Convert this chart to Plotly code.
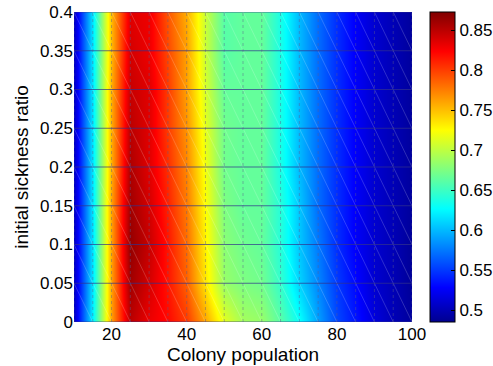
import plotly.graph_objects as go

# Data
population = [10, 15, 20, 25, 30, 35, 40, 45, 50, 55, 60, 65, 70, 75, 80, 85, 90, 95, 100]
sickness_ratio = [0.0, 0.05, 0.10, 0.15, 0.20, 0.25, 0.30, 0.35, 0.40]

row_000 = [0.505, 0.625, 0.765, 0.85, 0.83, 0.82, 0.80, 0.76, 0.715, 0.69, 0.685, 0.66, 0.63, 0.59, 0.555, 0.535, 0.515, 0.50, 0.49]
row_005 = [0.505, 0.62, 0.765, 0.86, 0.84, 0.815, 0.785, 0.735, 0.685, 0.675, 0.67, 0.645, 0.61, 0.58, 0.55, 0.53, 0.51, 0.50, 0.488]
row_010 = [0.505, 0.62, 0.765, 0.865, 0.845, 0.815, 0.78, 0.73, 0.68, 0.67, 0.665, 0.64, 0.605, 0.575, 0.545, 0.525, 0.51, 0.50, 0.488]
row_015 = [0.505, 0.62, 0.765, 0.86, 0.84, 0.81, 0.775, 0.725, 0.675, 0.665, 0.665, 0.64, 0.605, 0.57, 0.545, 0.525, 0.51, 0.50, 0.49]
row_020 = [0.505, 0.62, 0.76, 0.855, 0.835, 0.805, 0.77, 0.72, 0.67, 0.665, 0.665, 0.635, 0.60, 0.57, 0.545, 0.525, 0.51, 0.50, 0.49]
row_025 = [0.505, 0.62, 0.76, 0.85, 0.835, 0.80, 0.765, 0.715, 0.67, 0.665, 0.665, 0.635, 0.60, 0.57, 0.545, 0.525, 0.51, 0.50, 0.49]
row_030 = [0.505, 0.62, 0.76, 0.845, 0.835, 0.80, 0.76, 0.71, 0.665, 0.665, 0.665, 0.635, 0.60, 0.57, 0.545, 0.525, 0.51, 0.50, 0.49]
row_035 = [0.505, 0.62, 0.755, 0.84, 0.83, 0.795, 0.76, 0.705, 0.66, 0.665, 0.665, 0.635, 0.60, 0.57, 0.545, 0.525, 0.51, 0.50, 0.49]
row_040 = [0.505, 0.62, 0.755, 0.835, 0.83, 0.79, 0.755, 0.705, 0.66, 0.665, 0.665, 0.635, 0.60, 0.57, 0.545, 0.525, 0.51, 0.50, 0.49]

z = [row_000, row_005, row_010, row_015, row_020, row_025, row_030, row_035, row_040]

x_ticks = [20, 40, 60, 80, 100]
y_ticks = [0, 0.05, 0.1, 0.15, 0.2, 0.25, 0.3, 0.35, 0.4]
cbar_ticks = [0.5, 0.55, 0.6, 0.65, 0.7, 0.75, 0.8, 0.85]

jet = [
    [0.0, "rgb(0,0,143)"],
    [0.111, "rgb(0,0,255)"],
    [0.365, "rgb(0,255,255)"],
    [0.619, "rgb(255,255,0)"],
    [0.873, "rgb(255,0,0)"],
    [1.0, "rgb(128,0,0)"],
]

FAM = "Liberation Sans, Arial"
tick_font = dict(family=FAM, size=17, color="black")
title_font = dict(family=FAM, size=19, color="black")

W, H = 493, 366
ML, MR, MT, MB = 74, 81, 12, 44
plot_w = W - ML - MR

fig = go.Figure()
fig.add_trace(go.Heatmap(
    x=population, y=sickness_ratio, z=z,
    zsmooth="best", colorscale=jet, zmin=0.485, zmax=0.8725,
    colorbar=dict(
        x=1 + 18 / plot_w, xanchor="left", xpad=0, ypad=0,
        y=0.5, yanchor="middle", len=1, lenmode="fraction",
        thickness=25, thicknessmode="pixels",
        outlinecolor="black", outlinewidth=1,
        tickvals=cbar_ticks, ticktext=[str(v) for v in cbar_ticks],
        ticks="inside", ticklen=4, tickcolor="black",
        tickfont=tick_font, ticklabeloverflow="allow",
    ),
    hoverinfo="skip",
))

# diagonal facet lines (faint white)
dx, dy = [], []
for i in range(len(population) - 1):
    for j in range(len(sickness_ratio) - 1):
        dx += [population[i], population[i + 1], None]
        dy += [sickness_ratio[j + 1], sickness_ratio[j], None]
fig.add_trace(go.Scatter(x=dx, y=dy, mode="lines",
                         line=dict(color="rgba(255,255,255,0.3)", width=0.6),
                         hoverinfo="skip", showlegend=False))

# vertical mesh lines
vx, vy = [], []
for xv in population:
    vx += [xv, xv, None]
    vy += [sickness_ratio[0], sickness_ratio[-1], None]
fig.add_trace(go.Scatter(x=vx, y=vy, mode="lines",
                         line=dict(color="rgba(90,90,140,0.45)", width=1, dash="dot"),
                         hoverinfo="skip", showlegend=False))

# horizontal mesh lines
hx, hy = [], []
for yv in sickness_ratio:
    hx += [population[0], population[-1], None]
    hy += [yv, yv, None]
fig.add_trace(go.Scatter(x=hx, y=hy, mode="lines",
                         line=dict(color="rgba(50,50,140,0.7)", width=1.2),
                         hoverinfo="skip", showlegend=False))

fig.update_layout(
    width=W, height=H,
    margin=dict(l=ML, r=MR, t=MT, b=MB, autoexpand=False),
    paper_bgcolor="white", plot_bgcolor="white",
    font=tick_font, showlegend=False,
    xaxis=dict(range=[10, 100], tickvals=x_ticks, ticktext=[str(v) for v in x_ticks],
               showgrid=False, zeroline=False, showline=False, ticks="",
               tickfont=tick_font, automargin=False, ticklabeloverflow="allow",
               title=dict(text="Colony population", font=title_font, standoff=0)),
    yaxis=dict(range=[0, 0.4], tickvals=y_ticks, ticktext=[("%g" % v) for v in y_ticks],
               showgrid=False, zeroline=False, showline=False, ticks="",
               tickfont=tick_font, automargin=False, ticklabeloverflow="allow",
               title=dict(text="initial sickness ratio", font=title_font, standoff=6)),
)

fig.write_html("out.html",
               config={"displayModeBar": False},
               post_script="document.body.style.margin='0';document.body.style.overflow='hidden';")
